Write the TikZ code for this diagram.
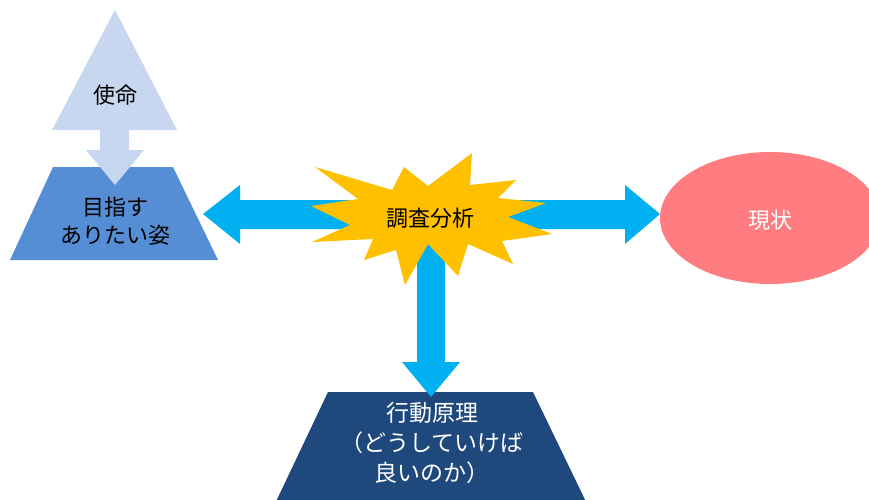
\documentclass[tikz,border=0pt]{standalone}
\usepackage{fontspec}
\setmainfont{Noto Sans CJK JP}
\definecolor{lightblue}{HTML}{C6D7EF}
\definecolor{midblue}{HTML}{558ED5}
\definecolor{cyanarrow}{HTML}{00B0F0}
\definecolor{burst}{HTML}{FFC000}
\definecolor{salmon}{HTML}{FF7C80}
\definecolor{navy}{HTML}{1F497D}
\tikzset{
  lbl/.style={inner sep=0pt, align=center, font=\fontsize{22}{28}\selectfont},
  lblbig/.style={inner sep=0pt, align=center, font=\fontsize{23}{30}\selectfont},
}
\begin{document}
\begin{tikzpicture}[x=1pt,y=-1pt]
\useasboundingbox (0,0) rectangle (869,499);
% mission triangle
\fill[lightblue] (52,130) -- (177,130) -- (115,10) -- cycle;
% goal trapezoid
\fill[midblue] (53,167) -- (173,167) -- (218,260) -- (10,260) -- cycle;
% down arrow from mission
\fill[lightblue] (100,120) -- (129,120) -- (129,150) -- (144,150) -- (115,185) -- (86,150) -- (100,150) -- cycle;
% current ellipse
\fill[salmon] (770,218) ellipse[x radius=110, y radius=66];
% action trapezoid
\fill[navy] (328,392) -- (533,392) -- (590,510) -- (272,510) -- cycle;
% three-way arrow
\fill[cyanarrow] (203,214) -- (240,185) -- (240,200) -- (625,200) -- (625,185) -- (660,214)
  -- (625,244) -- (625,229) -- (445,229) -- (445,362) -- (460,362) -- (431,397)
  -- (402,362) -- (417,362) -- (417,229) -- (240,229) -- (240,244) -- cycle;
% explosion
\fill[burst] (315,167) -- (392,190) -- (404,167) -- (428,186) -- (472,153) -- (470,185)
  -- (516,180) -- (498,198) -- (546,203) -- (508,217) -- (552,234) -- (502,241)
  -- (513,264) -- (468,244) -- (458,276) -- (428,244) -- (405,285) -- (396,250)
  -- (364,260) -- (373,239) -- (312,242) -- (350,225) -- (311,206) -- (358,199) -- cycle;
% labels
\node[lbl] (mission) at (115,95) {使命};
\node[lbl] (goal) at (115,221) {目指す\\ありたい姿};
\node[lbl] (survey) at (430,218) {調査分析};
\node[lbl, text=white] (current) at (770,220) {現状};
\node[lblbig, text=white] (action) at (432,443) {行動原理\\（どうしていけば\\良いのか）};
\end{tikzpicture}
\end{document}
